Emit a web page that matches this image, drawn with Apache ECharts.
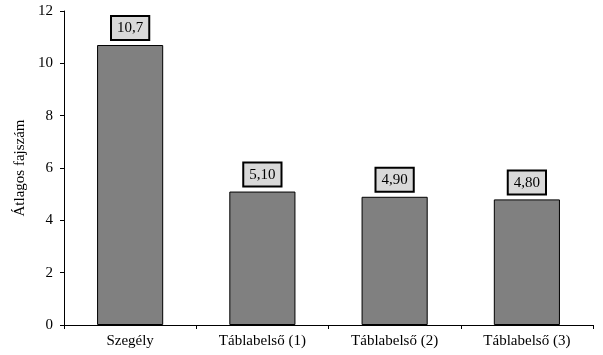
<!DOCTYPE html>
<html><head><meta charset="utf-8">
<script src="https://cdn.jsdelivr.net/npm/echarts@6/dist/echarts.min.js"></script>
<style>html,body{margin:0;padding:0;background:#fff}#c{width:603px;height:355px}</style>
</head><body><div id="c"></div>
<script>
const categories = ["Szegély", "Táblabelső (1)", "Táblabelső (2)", "Táblabelső (3)"];
const values = [10.7, 5.1, 4.9, 4.8];
const valueLabels = ["10,7", "5,10", "4,90", "4,80"];
const yTicks = [0, 2, 4, 6, 8, 10, 12];
const yName = "Átlagos fajszám";

const font = "'Liberation Serif', 'Times New Roman', serif";
const chart = echarts.init(document.getElementById('c'), null, {renderer: 'canvas'});
chart.setOption({
  animation: false,
  grid: {left: 64, right: 10, top: 11, bottom: 30},
  xAxis: {
    type: 'category', data: categories,
    axisLine: {lineStyle: {color: '#000', width: 1}},
    axisTick: {show: true, alignWithLabel: false, length: 4, lineStyle: {color: '#000'}},
    axisLabel: {color: '#000', fontFamily: font, fontSize: 15, margin: 9}
  },
  yAxis: {
    type: 'value', min: yTicks[0], max: yTicks[yTicks.length - 1], interval: 2,
    name: yName, nameLocation: 'middle', nameGap: 32,
    nameTextStyle: {color: '#000', fontFamily: font, fontSize: 15},
    splitLine: {show: false},
    axisLine: {show: true, lineStyle: {color: '#000', width: 1}},
    axisTick: {show: true, length: 4, lineStyle: {color: '#000'}},
    axisLabel: {color: '#000', fontFamily: font, fontSize: 15, margin: 11}
  },
  series: [{
    type: 'bar', data: values, barWidth: '50%',
    itemStyle: {color: '#808080', borderColor: '#000', borderWidth: 1},
    label: {
      show: true, position: 'top', distance: 6,
      formatter: p => valueLabels[p.dataIndex],
      color: '#000', fontFamily: font, fontSize: 15,
      backgroundColor: '#d9d9d9', borderColor: '#000', borderWidth: 2,
      padding: [4, 5, 3, 5]
    }
  }]
});
</script></body></html>
